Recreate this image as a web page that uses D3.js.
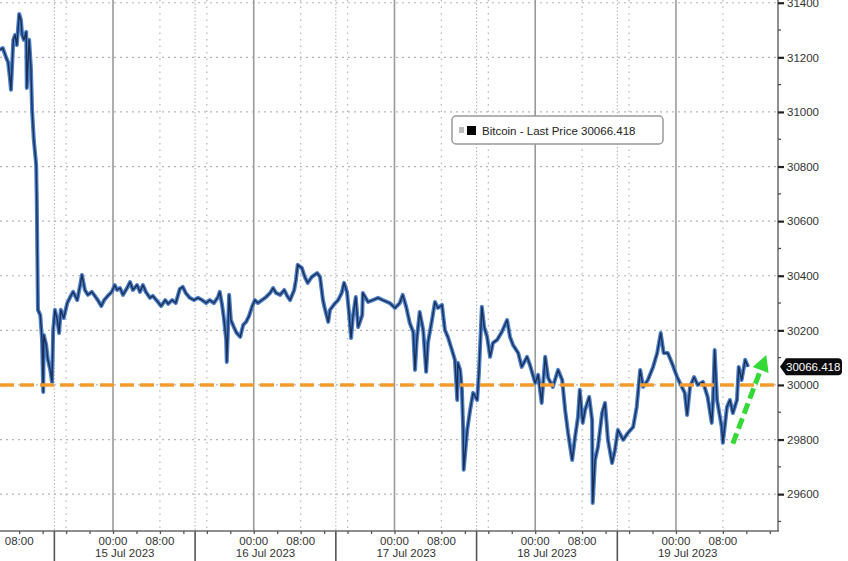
<!DOCTYPE html>
<html><head><meta charset="utf-8">
<script src="https://cdn.jsdelivr.net/npm/d3@7"></script>
<style>
body{margin:0;background:#fff;}
svg{display:block;font-family:"Liberation Sans",Arial,sans-serif;}
</style>
</head><body>
<svg id="chart" width="848" height="561"></svg>
<script>
// ---- data (hours since 14 Jul 2023 00:00 UTC, price in USD) ----
const hours = [4.7,5.2,5.8,6.1,6.4,6.6,7.0,7.3,7.6,8.0,
8.3,8.5,8.8,9.2,9.3,9.7,10.0,10.2,10.5,10.9,
11.0,11.2,11.6,11.9,12.1,12.2,12.6,12.9,13.3,13.6,
13.8,14.1,14.5,14.8,15.1,15.6,16.2,16.7,17.2,17.9,
18.4,18.7,19.2,19.7,20.4,20.9,21.4,22.0,22.5,23.1,
23.8,24.3,24.7,25.2,25.7,26.4,26.9,27.4,28.1,28.6,
29.1,29.6,30.3,30.8,31.5,32.2,32.9,33.4,34.1,34.7,
35.4,35.9,36.4,37.1,37.8,38.5,39.2,39.9,40.5,41.2,
41.9,42.2,42.6,42.9,43.3,43.4,43.6,43.8,44.1,44.6,
45.1,45.7,46.2,46.7,47.2,47.7,48.2,48.7,49.4,50.1,
50.8,51.3,51.8,52.5,53.2,53.7,54.2,54.9,55.2,55.5,
56.2,56.7,57.2,57.9,58.8,59.3,59.8,60.1,60.7,61.0,
61.9,62.4,63.0,63.4,63.9,64.2,64.6,64.9,65.4,65.8,
66.5,66.6,67.5,68.3,69.2,70.0,71.2,72.1,72.9,73.4,
74.0,74.6,75.2,75.5,75.8,76.3,76.9,77.4,77.7,78.4,
78.9,79.4,80.1,80.6,81.1,81.8,82.3,82.7,82.8,83.2,
83.5,83.7,83.8,84.4,84.9,85.4,86.1,86.4,86.7,86.9,
87.3,87.8,88.3,88.8,89.5,90.3,91.2,91.7,92.2,93.1,
93.7,94.6,95.1,96.0,96.5,97.1,97.7,98.2,99.0,99.9,
100.6,101.1,101.6,102.3,102.8,103.3,103.6,104.1,104.5,105.2,
105.7,105.8,106.2,106.7,107.4,107.9,108.4,109.1,109.6,110.1,
111.0,111.8,112.7,113.3,113.9,114.4,115.2,116.1,116.8,117.4,
117.9,118.6,119.3,120.2,121.0,121.5,121.9,122.4,123.1,123.7,
124.6,125.4,126.1,126.3,126.6,127.0,127.8,128.0,128.7,129.2,
129.7,130.4,130.7,131.2,131.8,132.3];

const prices = [31227,31234,31198,31183,31128,31081,31264,31282,31245,31359,
31337,31282,31264,31293,31088,31264,31161,31007,30897,30806,
30678,30275,30256,30165,29974,30183,30147,30092,30055,30011,
30201,30275,30238,30190,30275,30245,30300,30322,30341,30311,
30366,30403,30348,30330,30341,30326,30311,30289,30311,30326,
30341,30366,30348,30355,30330,30355,30377,30348,30366,30341,
30366,30341,30319,30326,30308,30289,30311,30297,30311,30300,
30352,30359,30337,30319,30311,30319,30311,30300,30311,30300,
30322,30341,30293,30245,30165,30084,30201,30330,30238,30212,
30190,30176,30220,30231,30253,30286,30311,30300,30311,30322,
30337,30355,30337,30330,30348,30326,30311,30348,30385,30440,
30429,30396,30374,30396,30410,30396,30311,30282,30231,30275,
30300,30311,30337,30374,30341,30275,30172,30249,30322,30212,
30256,30337,30304,30311,30319,30311,30300,30282,30300,30330,
30286,30227,30194,30055,30165,30267,30201,30048,30154,30238,
30304,30282,30293,30201,30176,30128,30092,29945,30081,30055,
29982,29846,29689,29835,29908,29971,29945,30044,30190,30286,
30212,30176,30103,30154,30165,30194,30238,30176,30147,30117,
30066,30103,30073,30007,30037,29934,30103,30026,29993,30055,
30018,29908,29824,29725,29810,29883,29982,29861,29908,29956,
29872,29568,29725,29773,29897,29934,29799,29714,29762,29835,
29799,29824,29846,29919,30055,29993,30018,30066,30117,30190,
30117,30117,30081,30029,29993,29971,29890,29993,30029,30000,
30011,29956,29861,29934,30128,29945,29846,29788,29919,29945,
29897,29945,30066,30018,30092,30066.418];

const yTickValues = [29600,29800,30000,30200,30400,30600,30800,31000,31200,31400];
const dayStarts = [24,48,72,96,120];            // 15..19 Jul 00:00
const dayLabels = ["15 Jul 2023","16 Jul 2023","17 Jul 2023","18 Jul 2023","19 Jul 2023"];
const timeLabelHours = [8,24,32,48,56,72,80,96,104,120,128];
const minorGridHours = [16,32,40,56,64,80,88,104,112,128];
const separatorHours = [14,38,62,86,110];
const refLevel = 30000;
const lastPrice = 30066.418;
const legendText = "Bitcoin - Last Price 30066.418";
const arrowFrom = {h:129.7, v:29785};
const arrowTo = {h:135.4, v:30110};

// ---- setup ----
const W = 848, H = 561;
const plot = {left:0, right:778, top:0, bottom:531};
const base = Date.UTC(2023,6,14);
const toDate = h => new Date(base + h*3600e3);

const x = d3.scaleUtc().domain([toDate(4.73), toDate(137.4)]).range([plot.left, plot.right]);
const y = d3.scaleLinear().domain([29465, 31410]).range([plot.bottom, plot.top]);
const fmtTime = d3.utcFormat("%H:%M");

const svg = d3.select("#chart");
svg.append("rect").attr("width",W).attr("height",H).attr("fill","#fff");

const g = svg.append("g");

// horizontal grid
g.selectAll("line.hg").data(yTickValues).join("line")
  .attr("x1",plot.left).attr("x2",plot.right)
  .attr("y1",d=>y(d)).attr("y2",d=>y(d))
  .attr("stroke","#b5b5b5").attr("stroke-width",1.2).attr("stroke-dasharray","2,4");

// minor vertical grid (08:00 / 16:00)
g.selectAll("line.vg").data(minorGridHours).join("line")
  .attr("x1",d=>x(toDate(d))).attr("x2",d=>x(toDate(d)))
  .attr("y1",plot.top).attr("y2",plot.bottom)
  .attr("stroke","#b5b5b5").attr("stroke-width",1.2).attr("stroke-dasharray","1.5,5");

// separator dotted lines
g.selectAll("line.sg").data(separatorHours).join("line")
  .attr("x1",d=>x(toDate(d))).attr("x2",d=>x(toDate(d)))
  .attr("y1",plot.top).attr("y2",plot.bottom)
  .attr("stroke","#b0b0b0").attr("stroke-width",1).attr("stroke-dasharray","1.5,2");

// day solid lines
g.selectAll("line.dg").data(dayStarts).join("line")
  .attr("x1",d=>x(toDate(d))).attr("x2",d=>x(toDate(d)))
  .attr("y1",plot.top).attr("y2",plot.bottom)
  .attr("stroke","#9a9a9a").attr("stroke-width",1.6);

// price line
const data = hours.map((h,i)=>({h, v:prices[i]})).filter(d=>d.v!==undefined);
const line = d3.line().x(d=>x(toDate(d.h))).y(d=>y(d.v));
g.append("path").datum(data).attr("d",line)
  .attr("fill","none").attr("stroke","#4a7ec8").attr("stroke-width",4).attr("stroke-linejoin","round");
g.append("path").datum(data).attr("d",line)
  .attr("fill","none").attr("stroke","#1b2f55").attr("stroke-width",1.4).attr("stroke-linejoin","round");

// reference orange dashed line
g.append("line")
  .attr("x1",plot.left).attr("x2",plot.right)
  .attr("y1",y(refLevel)).attr("y2",y(refLevel))
  .attr("stroke","#f39a2c").attr("stroke-width",3.6).attr("stroke-dasharray","14,6");

// axes lines
g.append("line").attr("x1",plot.left).attr("x2",plot.right+1).attr("y1",plot.bottom).attr("y2",plot.bottom)
  .attr("stroke","#6a6a6a").attr("stroke-width",1.5);
g.append("line").attr("x1",plot.right).attr("x2",plot.right).attr("y1",plot.top).attr("y2",plot.bottom)
  .attr("stroke","#6a6a6a").attr("stroke-width",1.5);

// right axis via d3
const yAxis = d3.axisRight(y).tickValues(yTickValues).tickSize(6).tickPadding(3).tickFormat(d3.format("d"));
const ya = svg.append("g").attr("transform",`translate(${plot.right},0)`).call(yAxis);
ya.select(".domain").remove();
ya.selectAll(".tick line").attr("stroke","#222").attr("stroke-width",2.2);
ya.selectAll(".tick text").attr("fill","#333").style("font-size","11.5px").style("font-family","'Liberation Sans',Arial,sans-serif");
// minor ticks
const minorY = yTickValues.slice(0,-1).map(v=>v+100).concat([29500]);
svg.selectAll("line.my").data(minorY).join("line")
  .attr("x1",plot.right).attr("x2",plot.right+3)
  .attr("y1",d=>y(d)).attr("y2",d=>y(d))
  .attr("stroke","#444").attr("stroke-width",1.2);

// bottom axis via d3 (4h ticks)
const xTicks = d3.range(8,137,4).map(toDate);
const xAxis = d3.axisBottom(x).tickValues(xTicks).tickSize(3).tickFormat("");
const xa = svg.append("g").attr("transform",`translate(0,${plot.bottom})`).call(xAxis);
xa.select(".domain").remove();
xa.selectAll(".tick line").attr("stroke","#555").attr("stroke-width",1.3);

// time labels
svg.selectAll("text.tl").data(timeLabelHours).join("text")
  .attr("x",d=>x(toDate(d))).attr("y",545)
  .attr("text-anchor","middle").attr("fill","#333").style("font-size","11.5px")
  .text(d=>fmtTime(toDate(d)));

// date labels
svg.selectAll("text.dl").data(dayStarts).join("text")
  .attr("x",d=>x(toDate(d+2))).attr("y",557)
  .attr("text-anchor","middle").attr("fill","#333").style("font-size","11.5px")
  .text((d,i)=>dayLabels[i]);

// separators under axis
svg.selectAll("line.sep").data(separatorHours).join("line")
  .attr("x1",d=>x(toDate(d))).attr("x2",d=>x(toDate(d)))
  .attr("y1",plot.bottom).attr("y2",H)
  .attr("stroke","#555").attr("stroke-width",1.6);

// last price tag
const ty = y(lastPrice);
const tag = svg.append("g");
tag.append("path")
  .attr("d",`M${plot.right+2},${ty} L${plot.right+8},${ty-8.5} L${plot.right+60},${ty-8.5} Q${plot.right+64},${ty-8.5} ${plot.right+64},${ty-4.5} L${plot.right+64},${ty+4.5} Q${plot.right+64},${ty+8.5} ${plot.right+60},${ty+8.5} L${plot.right+8},${ty+8.5} Z`)
  .attr("fill","#0a0a0a");
tag.append("text").attr("x",plot.right+8).attr("y",ty+4.2)
  .attr("fill","#fff").style("font-size","11.5px").text(d3.format(".3f")(lastPrice));

// legend
const lg = svg.append("g");
lg.append("rect").attr("x",452).attr("y",116).attr("width",211).attr("height",28).attr("rx",4)
  .attr("fill","#fff").attr("stroke","#999").attr("stroke-width",1.5);
lg.append("rect").attr("x",459).attr("y",127).attr("width",5).attr("height",6).attr("fill","#bbb");
lg.append("rect").attr("x",467).attr("y",126).attr("width",9).attr("height",9).attr("fill","#000");
lg.append("text").attr("x",482).attr("y",135).attr("fill","#222").style("font-size","11.5px").text(legendText);

// green arrow annotation
const ax0 = x(toDate(arrowFrom.h)), ay0 = y(arrowFrom.v);
const ax1 = x(toDate(arrowTo.h)), ay1 = y(arrowTo.v);
const dx = ax1-ax0, dy = ay1-ay0, len = Math.hypot(dx,dy);
const ux = dx/len, uy = dy/len, px = -uy, py = ux;
const headL = 16, headW = 8.5;
const bx = ax1-ux*headL, by = ay1-uy*headL;
svg.append("line").attr("x1",ax0).attr("y1",ay0).attr("x2",bx+ux*2).attr("y2",by+uy*2)
  .attr("stroke","#35d935").attr("stroke-width",5).attr("stroke-dasharray","11,5");
svg.append("path")
  .attr("d",`M${ax1},${ay1} L${bx+px*headW},${by+py*headW} L${bx-px*headW},${by-py*headW} Z`)
  .attr("fill","#35d935");
</script>
</body></html>
